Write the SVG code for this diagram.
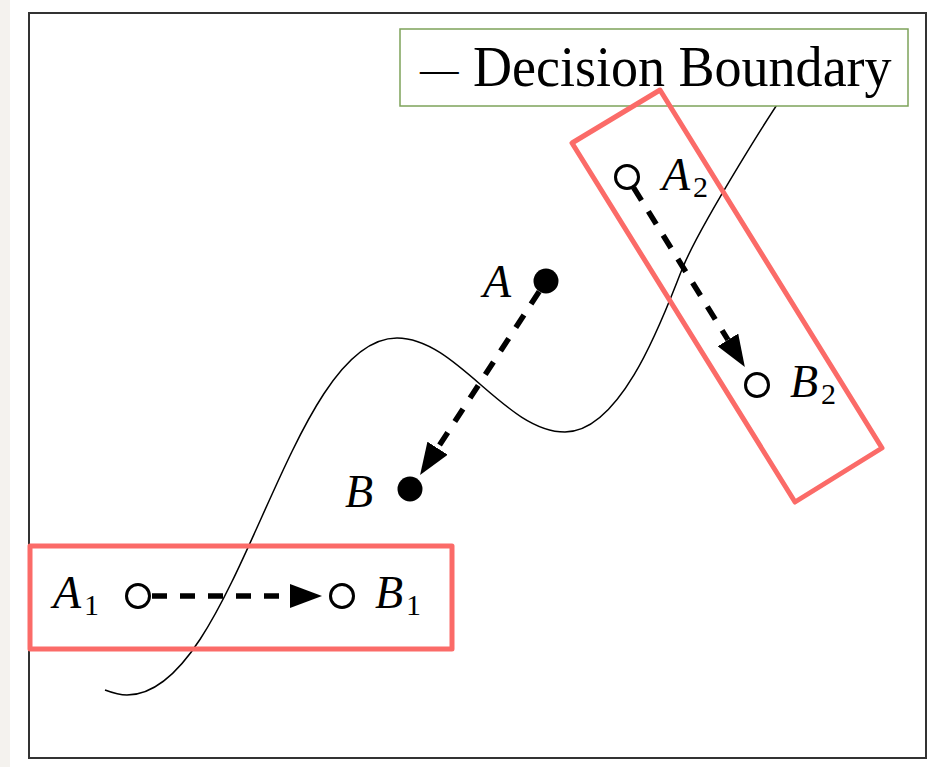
<svg xmlns="http://www.w3.org/2000/svg" width="940" height="767" viewBox="0 0 940 767">
<style>
.lbl{font-family:"Liberation Serif","Times New Roman",serif;font-style:italic;font-size:46px;fill:#000}
.sub{font-size:30px;font-style:normal}
.conn{stroke:#000;stroke-width:5.5;stroke-dasharray:15 13;fill:none;marker-end:url(#ah)}
.open{fill:#fff;stroke:#000;stroke-width:3}
.dot{fill:#000}
.hl{fill:none;stroke:#fb6b68;stroke-width:5;stroke-linejoin:round}
</style>
<defs>
<marker id="ah" markerUnits="userSpaceOnUse" markerWidth="32" markerHeight="24" viewBox="0 0 32 24" refX="0" refY="12" orient="auto">
<path d="M0,0 L32,12 L0,24 z" fill="#000"/>
</marker>
</defs>
<rect x="0" y="0" width="940" height="767" fill="#fff"/>
<rect x="0" y="0" width="10" height="767" fill="#f4f2ee"/>
<rect id="frame" x="29" y="13" width="897" height="745" fill="#fff" stroke="#333" stroke-width="2"/>
<path id="boundary" fill="none" stroke="#000" stroke-width="1.5" d="M105,690 C113,693 120,695 127,695 C237,695 287,338 397,338 C457,338 505,432 565,432 C625,432 668,303 683,267 C700,226 775,104 800,72"/>
<g id="legend">
<rect x="400" y="29" width="508" height="77" fill="#fff" stroke="#7da35a" stroke-width="1.5"/>
<text font-family="'Liberation Serif','Times New Roman',serif" font-size="56" fill="#000" transform="translate(473,86) scale(0.965,1) translate(-473,-86)"><tspan x="418" y="82" font-size="40">—</tspan><tspan x="473" y="86">Decision Boundary</tspan></text>
</g>
<g id="highlights">
<rect id="box1" class="hl" x="30" y="546" width="422" height="103"/>
<polygon id="box2" class="hl" points="660,90 882,448 795,502 572,143"/>
</g>
<g id="connectors">
<line class="conn" x1="152" y1="596" x2="290" y2="596"/>
<line class="conn" x1="539.2" y1="291.5" x2="437.5" y2="448.2"/>
<line class="conn" x1="633.6" y1="187.6" x2="728" y2="339.9"/>
</g>
<g id="A"><circle class="dot" cx="546" cy="281" r="12.5"/><text class="lbl" x="483" y="297">A</text></g>
<g id="B"><circle class="dot" cx="410" cy="489" r="12.5"/><text class="lbl" x="345" y="507">B</text></g>
<g id="A1"><circle class="open" cx="138" cy="596" r="11.5"/><text class="lbl" x="53" y="608">A<tspan class="sub" x="84" dy="7">1</tspan></text></g>
<g id="B1"><circle class="open" cx="342" cy="596" r="11.5"/><text class="lbl" x="375" y="608">B<tspan class="sub" x="406" dy="7">1</tspan></text></g>
<g id="A2"><circle class="open" cx="627" cy="177" r="11.5"/><text class="lbl" x="662" y="190">A<tspan class="sub" x="693" dy="7">2</tspan></text></g>
<g id="B2"><circle class="open" cx="757" cy="385" r="11.5"/><text class="lbl" x="790" y="397">B<tspan class="sub" x="821" dy="7">2</tspan></text></g>
</svg>
